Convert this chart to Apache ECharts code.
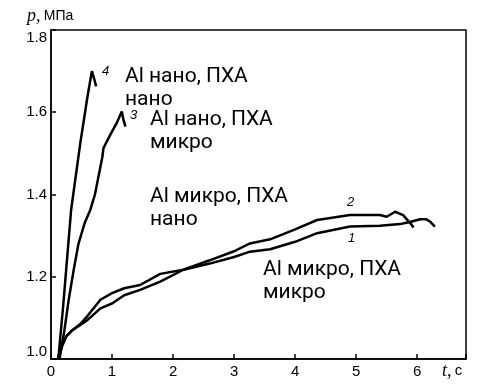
<!DOCTYPE html>
<html>
<head>
<meta charset="utf-8">
<script src="https://cdn.jsdelivr.net/npm/echarts@6/dist/echarts.min.js"></script>
<style>
html,body{margin:0;padding:0;background:#fff;}
#chart{width:479px;height:387px;}
</style>
</head>
<body>
<div id="chart"></div>
<script>
// Curve 1 (Al микро, ПХА микро)
var t1 = [0.11,0.18,0.25,0.35,0.48,0.60,0.81,1.00,1.20,1.46,1.79,2.17,2.60,3.00,3.26,3.59,4.00,4.36,4.90,5.39,5.72,5.88,6.05,6.15,6.22,6.29];
var p1 = [1.00,1.030,1.055,1.070,1.085,1.105,1.144,1.160,1.172,1.180,1.207,1.217,1.232,1.248,1.261,1.267,1.285,1.306,1.322,1.324,1.328,1.333,1.340,1.340,1.333,1.322];
// Curve 2 (Al микро, ПХА нано)
var t2 = [0.11,0.18,0.25,0.35,0.48,0.60,0.81,1.00,1.20,1.46,1.79,2.17,2.60,3.00,3.26,3.59,4.00,4.36,4.90,5.20,5.39,5.50,5.64,5.77,5.91,5.94];
var p2 = [1.00,1.035,1.055,1.070,1.083,1.095,1.123,1.135,1.155,1.168,1.188,1.217,1.240,1.262,1.281,1.291,1.315,1.338,1.350,1.350,1.350,1.346,1.358,1.350,1.326,1.320];
// Curve 3 (Al нано, ПХА микро)
var t3 = [0.14,0.22,0.29,0.37,0.45,0.55,0.645,0.72,0.80,0.84,0.86,0.97,1.08,1.16,1.19,1.22];
var p3 = [1.00,1.070,1.144,1.215,1.280,1.330,1.363,1.400,1.460,1.490,1.513,1.545,1.575,1.602,1.580,1.565];
// Curve 4 (Al нано, ПХА нано)
var t4 = [0.12,0.20,0.33,0.48,0.60,0.67,0.70,0.74];
var p4 = [1.00,1.130,1.363,1.525,1.640,1.700,1.685,1.663];

var xTicks = [0,1,2,3,4,5,6];
var yTicks = ['1.0','1.2','1.4','1.6','1.8'];

function zip(a,b){ return a.map(function(v,i){ return [v,b[i]]; }); }

var chart = echarts.init(document.getElementById('chart'), null, {renderer:'canvas'});
var lineStyle = {color:'#000', width:2.5};
function mk(t,p){ return {type:'line', data:zip(t,p), showSymbol:false, symbol:'none', lineStyle:lineStyle, itemStyle:{color:'#000'}, animation:false}; }

var annFont = {fontFamily:'Roboto', fontSize:21, lineHeight:23, fill:'#000'};
function ann(txt,l,t){ return {type:'text', left:l, top:t, style:Object.assign({text:txt}, annFont)}; }
function num(txt,l,t){ return {type:'text', left:l, top:t, style:{text:txt, fontFamily:'Liberation Sans', fontStyle:'italic', fontSize:13, fill:'#000'}}; }

chart.setOption({
  backgroundColor:'#fff',
  animation:false,
  grid:{left:51, right:13, top:30, bottom:28, show:true, borderColor:'#000', borderWidth:1.5, backgroundColor:'transparent'},
  xAxis:{type:'value', min:0, max:6.8, interval:1,
    axisLine:{show:true, onZero:false, lineStyle:{color:'#000', width:1.5}},
    axisTick:{show:true, inside:true, length:5, lineStyle:{color:'#000', width:1.5}},
    splitLine:{show:false},
    axisLabel:{color:'#000', fontFamily:'Liberation Sans', fontSize:15, margin:5,
      formatter:function(v){ return xTicks.indexOf(v) >= 0 ? String(v) : ''; }}
  },
  yAxis:{type:'value', min:1.0, max:1.8, interval:0.2,
    axisLine:{show:true, lineStyle:{color:'#000', width:1.5}},
    axisTick:{show:true, inside:true, length:5, lineStyle:{color:'#000', width:1.5}},
    splitLine:{show:false},
    axisLabel:{color:'#000', fontFamily:'Liberation Sans', fontSize:15, margin:4,
      verticalAlignMinLabel:'bottom', verticalAlignMaxLabel:'top',
      formatter:function(v){ var s = v.toFixed(1); return yTicks.indexOf(s) >= 0 ? s : ''; }}
  },
  series:[mk(t1,p1), mk(t2,p2), mk(t3,p3), mk(t4,p4)],
  graphic:[
    {type:'text', left:27, top:7, style:{rich:{i:{fontFamily:'Liberation Serif', fontStyle:'italic', fontSize:18, fill:'#000'}, n:{fontFamily:'Liberation Sans', fontSize:14, fill:'#000'}}, text:'{i|p,} {n|МПа}'}},
    {type:'text', left:442, top:362, style:{rich:{i:{fontFamily:'Liberation Serif', fontStyle:'italic', fontSize:18, fill:'#000'}, n:{fontFamily:'Liberation Sans', fontSize:15, fill:'#000'}}, text:'{i|t,} {n|c}'}},
    ann('Al нано, ПХА\nнано', 125, 65),
    ann('Al нано, ПХА\nмикро', 150, 108),
    ann('Al микро, ПХА\nнано', 150, 185),
    ann('Al микро, ПХА\nмикро', 263, 258),
    num('4', 102, 65),
    num('3', 130, 109),
    num('2', 347, 196),
    num('1', 348, 232)
  ]
});
</script>
</body>
</html>
